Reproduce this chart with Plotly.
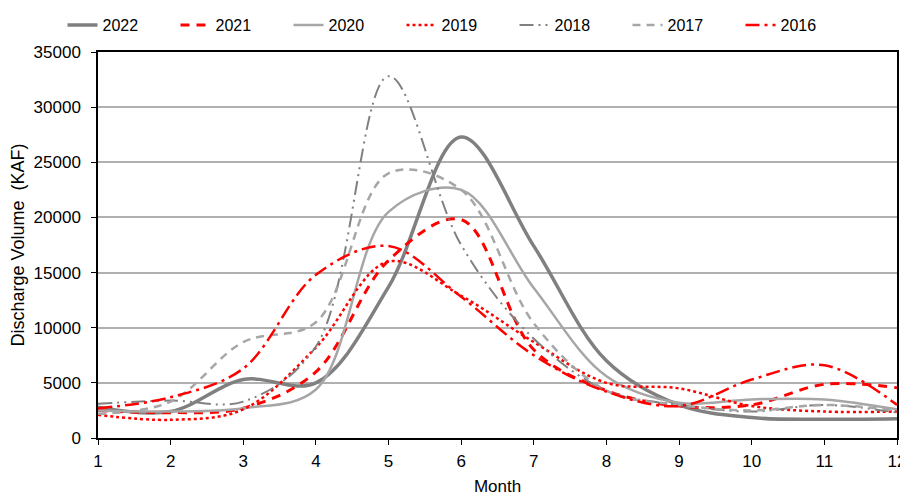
import plotly.graph_objects as go

months = [1, 2, 3, 4, 5, 6, 7, 8, 9, 10, 11, 12]

v2022 = [2800, 2400, 5300, 5000, 13700, 27300, 17400, 7000, 3000, 1850, 1700, 1750]
v2021 = [2500, 2300, 2700, 6000, 16100, 19800, 8000, 4300, 2900, 3000, 4870, 4560]
v2020 = [2500, 2400, 2700, 4400, 20500, 22500, 13600, 5600, 3200, 3500, 3500, 2600]
v2019 = [2100, 1650, 2600, 8200, 16000, 12900, 8700, 5000, 4500, 2900, 2400, 2400]
v2018 = [3100, 3400, 3300, 8300, 32800, 17500, 9000, 4300, 3000, 2400, 3000, 2300]
v2017 = [2200, 3300, 8700, 10500, 24000, 22500, 10400, 4300, 3000, 2500, 3000, 2500]
v2016 = [2700, 3700, 6300, 14800, 17400, 12800, 7500, 4200, 2900, 5300, 6600, 3000]

DARK = "#808080"
LIGHT = "#a6a6a6"
RED = "#ff0000"

series = [
    ("2022", v2022, DARK, "solid", 3.5),
    ("2021", v2021, RED, "9px,7px", 3),
    ("2020", v2020, LIGHT, "solid", 2.5),
    ("2019", v2019, RED, "dot", 2.5),
    ("2018", v2018, DARK, "14px,5px,2px,5px,2px,5px", 2),
    ("2017", v2017, LIGHT, "8px,6px", 2.5),
    ("2016", v2016, RED, "14px,5px,3px,5px", 2.5),
]

fig = go.Figure()
for name, vals, color, dash, w in series:
    fig.add_trace(go.Scatter(
        x=months, y=vals, name=name, mode="lines",
        line=dict(color=color, dash=dash, width=w, shape="spline", smoothing=1.0),
    ))

fig.update_layout(
    width=900, height=491,
    margin=dict(l=90, r=11, t=44, b=61),
    paper_bgcolor="white", plot_bgcolor="white",
    font=dict(family="Arial, Liberation Sans, sans-serif", size=16, color="#000000"),
    showlegend=True,
    legend=dict(orientation="h", x=0.5, xanchor="center", xref="container",
                y=1.0, yanchor="top", yref="container",
                entrywidth=68, entrywidthmode="pixels",
                bgcolor="rgba(0,0,0,0)", font=dict(size=16), tracegroupgap=0),
    xaxis=dict(range=[1, 12], dtick=1, tick0=1, showgrid=False, showline=True,
               linecolor="black", linewidth=1.5, mirror=True, ticks="outside",
               ticklen=5, tickcolor="black", automargin=False,
               tickfont=dict(size=17), ticklabelstandoff=2,
               title=dict(text="Month", standoff=10, font=dict(size=17)), zeroline=False),
    yaxis=dict(range=[0, 35000], dtick=5000, tickformat="d", showgrid=True,
               gridcolor="#b0b0b0", gridwidth=1.5, showline=True, linecolor="black",
               linewidth=1.5, mirror=True, ticks="outside", ticklen=5, tickcolor="black",
               automargin=False, tickfont=dict(size=17), ticklabelstandoff=7,
               title=dict(text="Discharge Volume  (KAF)", standoff=8, font=dict(size=18)),
               zeroline=False),
)

fig.write_html("out.html")
